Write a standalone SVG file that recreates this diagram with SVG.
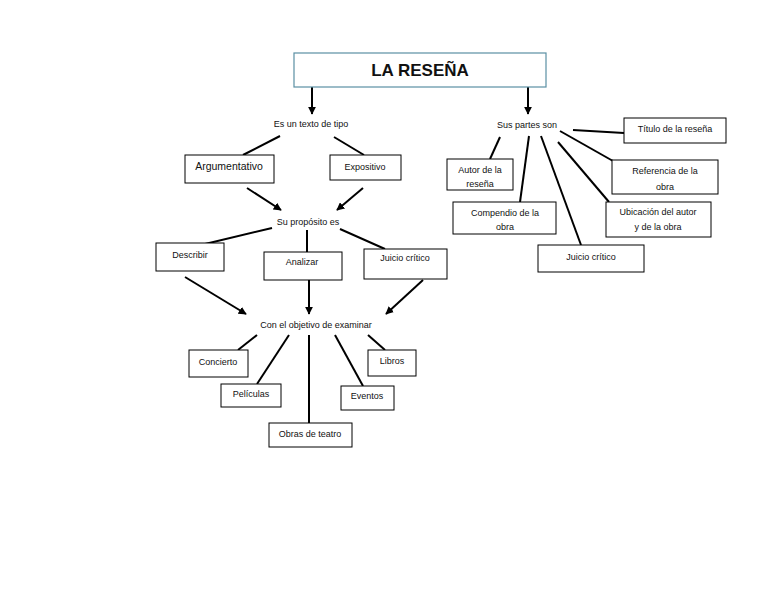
<svg xmlns="http://www.w3.org/2000/svg" width="768" height="594" viewBox="0 0 768 594">
<defs>
<marker id="ah" viewBox="0 0 10 10" refX="9" refY="5" markerWidth="4" markerHeight="4" orient="auto" markerUnits="strokeWidth">
<path d="M0,0 L10,5 L0,10 z" fill="#000"/>
</marker>
<style>
.box{fill:#fff;stroke:#000;stroke-width:1}
.t{font-family:"Liberation Sans",Arial,sans-serif;font-size:9px;fill:#111;text-anchor:middle}
.tl{font-family:"Liberation Sans",Arial,sans-serif;font-size:10.5px;fill:#111;text-anchor:middle}
.ln{stroke:#000;stroke-width:2;fill:none}
.ar{stroke:#000;stroke-width:2;fill:none;marker-end:url(#ah)}
</style>
</defs>
<rect width="768" height="594" fill="#fff"/>
<g id="connectors">
<line class="ar" x1="312" y1="87" x2="312" y2="114"/>
<line class="ar" x1="528" y1="87" x2="528" y2="114"/>
<line class="ln" x1="280" y1="136" x2="243" y2="155"/>
<line class="ln" x1="334" y1="137" x2="364" y2="155"/>
<line class="ar" x1="247" y1="188" x2="281" y2="210"/>
<line class="ar" x1="363" y1="188" x2="337" y2="210"/>
<line class="ln" x1="272" y1="228" x2="205" y2="244"/>
<line class="ln" x1="307" y1="230" x2="307" y2="252"/>
<line class="ln" x1="340" y1="229" x2="385" y2="249"/>
<line class="ar" x1="185" y1="277" x2="246" y2="314"/>
<line class="ar" x1="309" y1="280" x2="309" y2="314"/>
<line class="ar" x1="423" y1="280" x2="386" y2="314"/>
<line class="ln" x1="257" y1="335" x2="238" y2="350"/>
<line class="ln" x1="289" y1="335" x2="257" y2="384"/>
<line class="ln" x1="309" y1="335" x2="309" y2="423"/>
<line class="ln" x1="335" y1="335" x2="363" y2="386"/>
<line class="ln" x1="368" y1="335" x2="385" y2="350"/>
<line class="ln" x1="500" y1="137" x2="490" y2="159"/>
<line class="ln" x1="529" y1="136" x2="520" y2="202"/>
<line class="ln" x1="541" y1="136" x2="581" y2="245"/>
<line class="ln" x1="558" y1="142" x2="609" y2="202"/>
<line class="ln" x1="560" y1="131" x2="613" y2="161"/>
<line class="ln" x1="573" y1="130" x2="624" y2="133"/>
</g>
<g id="title"><rect x="294" y="53" width="252" height="34" fill="#fff" stroke="#5a8fa3" stroke-width="1.2"/><text x="420" y="76" font-family="Liberation Sans,Arial,sans-serif" font-size="17" font-weight="bold" text-anchor="middle" fill="#111">LA RESEÑA</text></g>
<g id="es-un-texto"><text class="t" x="311" y="127">Es un texto de tipo</text></g>
<g id="sus-partes"><text class="t" x="527" y="128">Sus partes son</text></g>
<g id="argumentativo"><rect class="box" x="185" y="155" width="89" height="28"/><text class="tl" x="229" y="170">Argumentativo</text></g>
<g id="expositivo"><rect class="box" x="330" y="155" width="71" height="25"/><text class="t" x="365" y="170">Expositivo</text></g>
<g id="proposito"><text class="t" x="308" y="225">Su propósito es</text></g>
<g id="describir"><rect class="box" x="156" y="243" width="68" height="28"/><text class="t" x="190" y="258">Describir</text></g>
<g id="analizar"><rect class="box" x="264" y="252" width="78" height="28"/><text class="t" x="302" y="265">Analizar</text></g>
<g id="juicio-critico-1"><rect class="box" x="364" y="249" width="83" height="30"/><text class="t" x="405" y="261">Juicio crítico</text></g>
<g id="objetivo"><text class="t" x="316" y="328">Con el objetivo de examinar</text></g>
<g id="concierto"><rect class="box" x="189" y="350" width="59" height="27"/><text class="t" x="218" y="365">Concierto</text></g>
<g id="peliculas"><rect class="box" x="221" y="384" width="60" height="23"/><text class="t" x="251" y="397">Películas</text></g>
<g id="obras"><rect class="box" x="269" y="423" width="83" height="24"/><text class="t" x="310" y="437">Obras de teatro</text></g>
<g id="eventos"><rect class="box" x="341" y="386" width="53" height="24"/><text class="t" x="367" y="399">Eventos</text></g>
<g id="libros"><rect class="box" x="368" y="350" width="48" height="26"/><text class="t" x="392" y="364">Libros</text></g>
<g id="autor"><rect class="box" x="447" y="159" width="66" height="31"/><text class="t" x="480" y="173">Autor de la</text><text class="t" x="480" y="187">reseña</text></g>
<g id="compendio"><rect class="box" x="453" y="202" width="103" height="32"/><text class="t" x="505" y="216">Compendio de la</text><text class="t" x="505" y="230">obra</text></g>
<g id="juicio-critico-2"><rect class="box" x="538" y="245" width="106" height="27"/><text class="t" x="591" y="260">Juicio crítico</text></g>
<g id="ubicacion"><rect class="box" x="606" y="202" width="105" height="35"/><text class="t" x="658" y="215">Ubicación del autor</text><text class="t" x="658" y="230">y de la obra</text></g>
<g id="referencia"><rect class="box" x="612" y="160" width="106" height="34"/><text class="t" x="665" y="174">Referencia de la</text><text class="t" x="665" y="190">obra</text></g>
<g id="titulo"><rect class="box" x="624" y="118" width="102" height="25"/><text class="t" x="675" y="132">Título de la reseña</text></g>
</svg>
